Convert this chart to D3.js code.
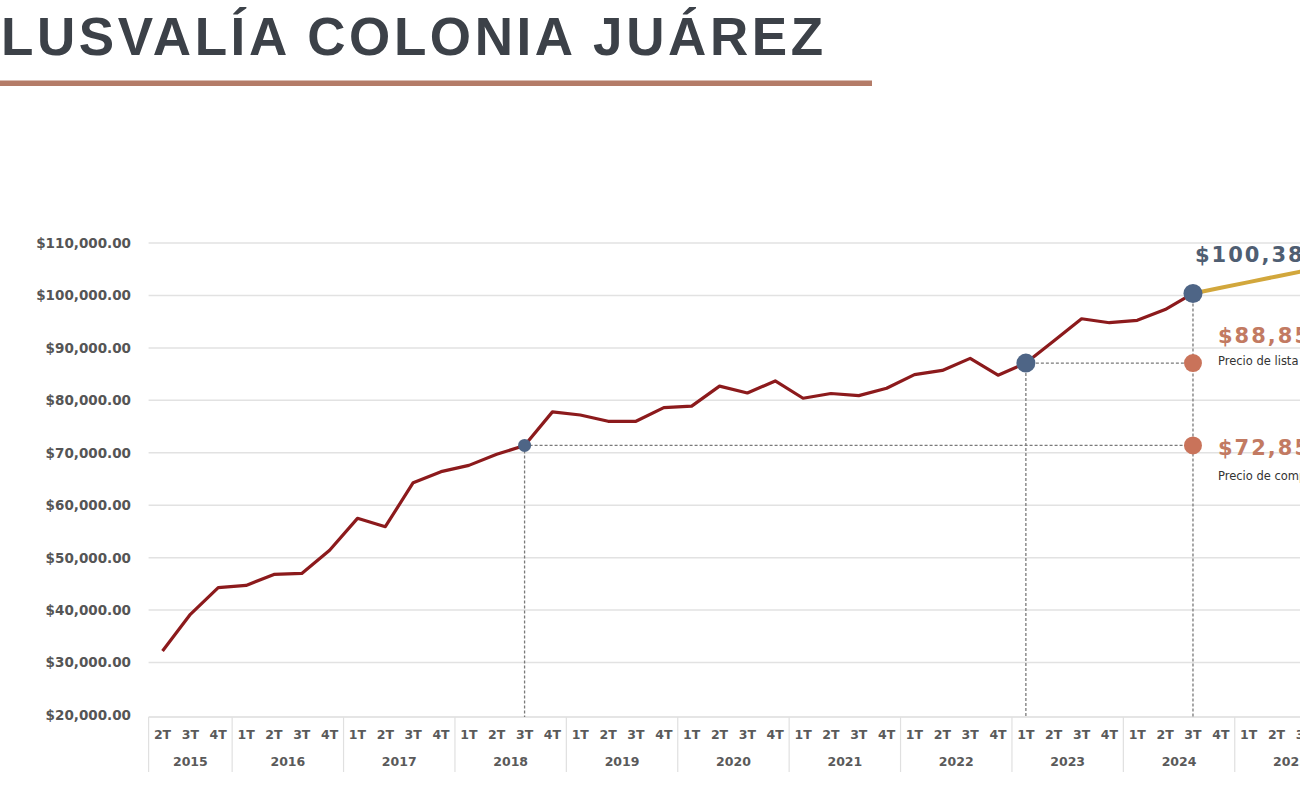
<!DOCTYPE html>
<html>
<head>
<meta charset="utf-8">
<title>Plusvalía Colonia Juárez</title>
<script src="https://cdn.jsdelivr.net/npm/d3@7"></script>
<style>
body { margin: 0; background: #fff; overflow: hidden; }
.grid line { stroke: #e2e2e2; stroke-width: 1.5; }
.ylab { font-family: "DejaVu Sans", sans-serif; font-weight: bold; font-size: 13.5px; fill: #555; }
.xlab { font-family: "DejaVu Sans", sans-serif; font-weight: bold; font-size: 12.5px; fill: #5a5a5a; }
.guide { stroke: #7a7a7a; stroke-width: 1.3; stroke-dasharray: 3,2; fill: none; }
</style>
</head>
<body>
<script>
// ---- data ----
var years = ["2015", "2016", "2017", "2018", "2019", "2020", "2021", "2022", "2023", "2024", "2025"];
var quarters = ["1T", "2T", "3T", "4T"];
var firstQuarter2015 = "2T";

// precio por m2, 2T 2015 .. 3T 2024
var prices = [32200, 39200, 44300, 44700, 46800, 47000, 51400, 57500, 55900, 64300,
              66400, 67600, 69700, 71400, 77800, 77200, 76000, 76000, 78600, 78900,
              82700, 81400, 83700, 80400, 81300, 80900, 82300, 84900, 85700, 88000,
              84800, 87100, 91300, 95550, 94800, 95250, 97300, 100380];
// proyección 3T 2024 .. 4T 2025
var projection = [100380, 101460, 102540, 103620, 104700, 105780];

var yTicks = [20000, 30000, 40000, 50000, 60000, 70000, 80000, 90000, 100000, 110000];

// marked points (index into prices)
var compraIdx = 13, listaIdx = 31, hoyIdx = 37;
var labelHoy = "$100,385.00";
var labelLista = "$88,850.00", textLista = "Precio de lista";
var labelCompra = "$72,850.00", textCompra = "Precio de compra";

// ---- categories ----
var cats = [];
years.forEach(function(y) {
  quarters.forEach(function(q) {
    if (y === "2015" && quarters.indexOf(q) < quarters.indexOf(firstQuarter2015)) return;
    cats.push({key: y + "-" + q, year: y, q: q});
  });
});

var width = 1300, height = 800;
var step = 27.85;
var x0 = 148.6;

var x = d3.scaleBand()
  .domain(cats.map(function(d) { return d.key; }))
  .range([x0, x0 + step * cats.length])
  .paddingInner(0).paddingOuter(0);
var bw = x.bandwidth();
function cx(i) { return x(cats[i].key) + bw / 2; }

var y = d3.scaleLinear().domain([20000, 110000]).range([715, 243]);

var svg = d3.select("body").append("svg")
  .attr("width", width).attr("height", height);

// title
svg.append("text")
  .attr("x", -38).attr("y", 55)
  .style("font-family", "'Liberation Sans', Arial, sans-serif")
  .style("font-weight", "bold")
  .style("font-size", "53px")
  .style("letter-spacing", "3.6px")
  .attr("fill", "#3c4148")
  .text("PLUSVALÍA COLONIA JUÁREZ");
svg.append("rect")
  .attr("x", 0).attr("y", 80.5).attr("width", 872).attr("height", 5.5)
  .attr("fill", "#b47c68");

// grid
var grid = svg.append("g").attr("class", "grid");
grid.selectAll("line").data(yTicks.slice(1)).enter().append("line")
  .attr("x1", x0).attr("x2", width)
  .attr("y1", function(d) { return y(d); }).attr("y2", function(d) { return y(d); });

// y labels
var fmt = d3.format("$,.2f");
svg.append("g").selectAll("text").data(yTicks).enter().append("text")
  .attr("class", "ylab")
  .attr("x", 131).attr("y", function(d) { return y(d); })
  .attr("dy", "0.36em")
  .attr("text-anchor", "end")
  .text(function(d) { return fmt(d); });

// x axis table
var axisTop = 717;
svg.append("line")
  .attr("x1", x0).attr("x2", width).attr("y1", axisTop).attr("y2", axisTop)
  .attr("stroke", "#dcdcdc").attr("stroke-width", 1.5);

svg.append("g").selectAll("text").data(cats).enter().append("text")
  .attr("class", "xlab")
  .attr("x", function(d) { return x(d.key) + bw / 2; })
  .attr("y", 739)
  .attr("text-anchor", "middle")
  .text(function(d) { return d.q; });

var yearGroups = d3.groups(cats, function(d) { return d.year; });
svg.append("g").selectAll("line").data(yearGroups).enter().append("line")
  .attr("x1", function(d) { return x(d[1][0].key); })
  .attr("x2", function(d) { return x(d[1][0].key); })
  .attr("y1", axisTop).attr("y2", 772)
  .attr("stroke", "#e0e0e0").attr("stroke-width", 1.2);

svg.append("g").selectAll("text").data(yearGroups).enter().append("text")
  .attr("class", "xlab")
  .attr("x", function(d) {
    var a = x(d[1][0].key), b = x(d[1][d[1].length - 1].key) + bw;
    return (a + b) / 2;
  })
  .attr("y", 766)
  .attr("text-anchor", "middle")
  .text(function(d) { return d[0]; });

// guides
var xHoy = cx(hoyIdx);
[compraIdx, listaIdx, hoyIdx].forEach(function(i) {
  svg.append("line").attr("class", "guide")
    .attr("x1", cx(i)).attr("x2", cx(i))
    .attr("y1", y(prices[i])).attr("y2", axisTop);
});
[compraIdx, listaIdx].forEach(function(i) {
  svg.append("line").attr("class", "guide")
    .attr("x1", cx(i)).attr("x2", xHoy)
    .attr("y1", y(prices[i])).attr("y2", y(prices[i]));
});

// lines
var line = d3.line()
  .x(function(d) { return cx(d.i); })
  .y(function(d) { return y(d.v); });

svg.append("path")
  .datum(projection.map(function(v, k) { return {i: hoyIdx + k, v: v}; }))
  .attr("d", line)
  .attr("fill", "none").attr("stroke", "#d2a73c").attr("stroke-width", 4);

svg.append("path")
  .datum(prices.map(function(v, i) { return {i: i, v: v}; }))
  .attr("d", line)
  .attr("fill", "none").attr("stroke", "#8c1a1c").attr("stroke-width", 3.2)
  .attr("stroke-linejoin", "round");

// dots
svg.append("circle").attr("cx", xHoy).attr("cy", y(prices[listaIdx])).attr("r", 9).attr("fill", "#c9735a");
svg.append("circle").attr("cx", xHoy).attr("cy", y(prices[compraIdx])).attr("r", 9).attr("fill", "#c9735a");
svg.append("circle").attr("cx", cx(compraIdx)).attr("cy", y(prices[compraIdx])).attr("r", 6.5).attr("fill", "#4e6586");
svg.append("circle").attr("cx", cx(listaIdx)).attr("cy", y(prices[listaIdx])).attr("r", 9.5).attr("fill", "#4e6586");
svg.append("circle").attr("cx", xHoy).attr("cy", y(prices[hoyIdx])).attr("r", 9.5).attr("fill", "#4e6586");

// annotation labels
function bigLabel(tx, ty, color, s) {
  svg.append("text").attr("x", tx).attr("y", ty)
    .style("font-family", "'DejaVu Sans', sans-serif")
    .style("font-weight", "bold").style("font-size", "21px")
    .style("letter-spacing", "2px")
    .attr("fill", color).text(s);
}
function smallLabel(tx, ty, s) {
  svg.append("text").attr("x", tx).attr("y", ty)
    .style("font-family", "'DejaVu Sans', sans-serif")
    .style("font-size", "11.5px")
    .attr("fill", "#333").text(s);
}
bigLabel(xHoy + 2, 262, "#4f5e72", labelHoy);
bigLabel(xHoy + 25, 343, "#c27a62", labelLista);
smallLabel(xHoy + 25, 365, textLista);
bigLabel(xHoy + 25, 455, "#c27a62", labelCompra);
smallLabel(xHoy + 25, 480, textCompra);
</script>
</body>
</html>
